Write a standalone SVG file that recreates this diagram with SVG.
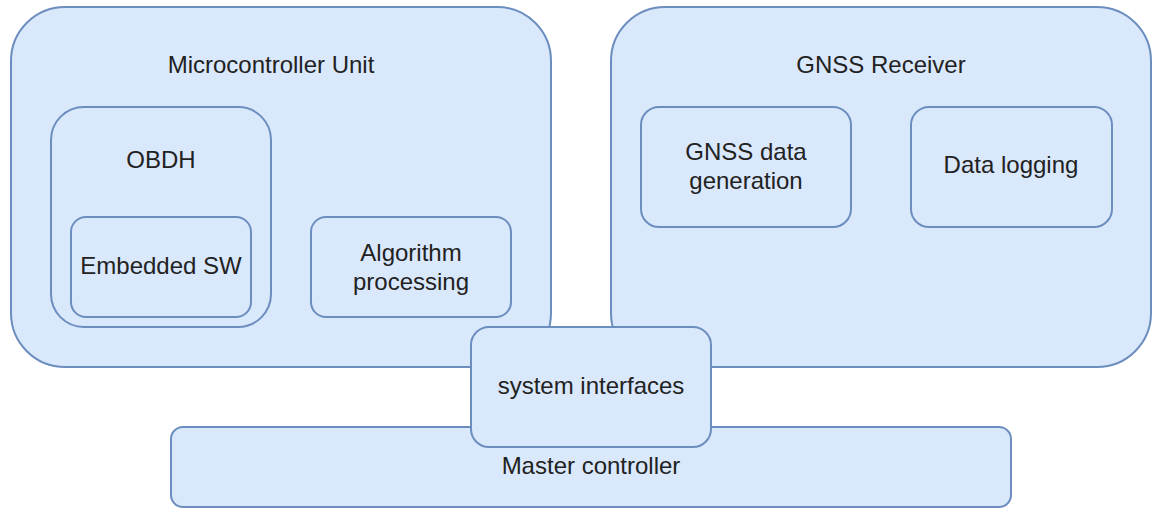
<svg xmlns="http://www.w3.org/2000/svg" width="1153" height="512" viewBox="0 0 1153 512">
  <style>
    .box { fill: #dae8fc; stroke: #6c8ebf; stroke-width: 2; }
    .lbl { font-family: "Liberation Sans", Arial, Helvetica, sans-serif; font-size: 24px; fill: #222222; text-anchor: middle; }
  </style>
  <rect width="1153" height="512" fill="#ffffff"/>

  <!-- Microcontroller unit with its inner blocks -->
  <g id="mcu">
    <rect class="box" x="11" y="7" width="540" height="360" rx="54" ry="54"/>
    <text class="lbl" x="271" y="73">Microcontroller Unit</text>
  </g>
  <g id="obdh">
    <rect class="box" x="51" y="107" width="220" height="220" rx="33" ry="33"/>
    <text class="lbl" x="161" y="168">OBDH</text>
  </g>
  <g id="embedded-sw">
    <rect class="box" x="71" y="217" width="180" height="100" rx="15" ry="15"/>
    <text class="lbl" x="161" y="274">Embedded SW</text>
  </g>
  <g id="algorithm-processing">
    <rect class="box" x="311" y="217" width="200" height="100" rx="15" ry="15"/>
    <text class="lbl" x="411" y="261">Algorithm</text>
    <text class="lbl" x="411" y="290">processing</text>
  </g>

  <!-- GNSS receiver with its inner blocks -->
  <g id="gnss-receiver">
    <rect class="box" x="611" y="7" width="540" height="360" rx="54" ry="54"/>
    <text class="lbl" x="881" y="73">GNSS Receiver</text>
  </g>
  <g id="gnss-data-generation">
    <rect class="box" x="641" y="107" width="210" height="120" rx="18" ry="18"/>
    <text class="lbl" x="746" y="160">GNSS data</text>
    <text class="lbl" x="746" y="189">generation</text>
  </g>
  <g id="data-logging">
    <rect class="box" x="911" y="107" width="201" height="120" rx="18" ry="18"/>
    <text class="lbl" x="1011" y="173">Data logging</text>
  </g>

  <!-- Master controller bar and the shared interface block on top -->
  <g id="master-controller">
    <rect class="box" x="171" y="427" width="840" height="80" rx="12" ry="12"/>
    <text class="lbl" x="591" y="474">Master controller</text>
  </g>
  <g id="system-interfaces">
    <rect class="box" x="471" y="327" width="240" height="120" rx="18" ry="18"/>
    <text class="lbl" x="591" y="394">system interfaces</text>
  </g>

  <g id="connectors"/>
</svg>
